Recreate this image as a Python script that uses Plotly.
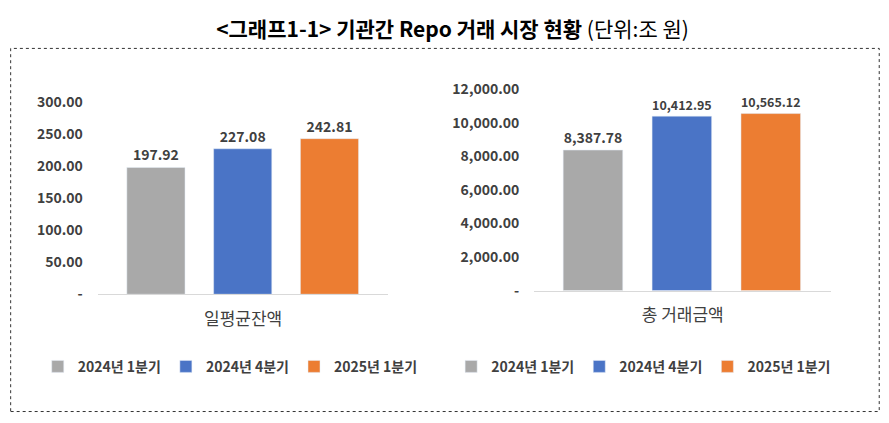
import plotly.graph_objects as go

series = ["2024년 1분기", "2024년 4분기", "2025년 1분기"]
colors = ["#a9a9a9", "#4a74c6", "#ec7d32"]
balance = [197.92, 227.08, 242.81]
volume = [8387.78, 10412.95, 10565.12]
left_ticks = [0, 50, 100, 150, 200, 250, 300]
left_ticktext = ["-", "50.00", "100.00", "150.00", "200.00", "250.00", "300.00"]
right_ticks = [0, 2000, 4000, 6000, 8000, 10000, 12000]
right_ticktext = ["-", "2,000.00", "4,000.00", "6,000.00", "8,000.00", "10,000.00", "12,000.00"]

F = "Noto Sans CJK KR"
fig = go.Figure()
for i, s in enumerate(series):
    fig.add_trace(go.Bar(x=[i], y=[balance[i]], name=s, marker_color=colors[i],
                         text=[f"{balance[i]:,.2f}"], textposition="outside",
                         textfont=dict(family=F, size=14, color="#404040", weight="bold"),
                         cliponaxis=False, xaxis="x", yaxis="y", legend="legend"))
    fig.add_trace(go.Bar(x=[i], y=[volume[i]], name=s, marker_color=colors[i],
                         text=[f"{volume[i]:,.2f}"], textposition="outside",
                         textfont=dict(family=F, size=14, color="#404040", weight="bold"),
                         cliponaxis=False, xaxis="x2", yaxis="y2", legend="legend2"))

tickf = dict(family=F, size=14, color="#404040", weight="bold")
xcommon = dict(showticklabels=False, ticks="", showgrid=False, zeroline=False,
               showline=True, linecolor="#d9d9d9", linewidth=1,
               title_font=dict(family=F, size=17, color="#404040"), title_standoff=18)
fig.update_layout(
    width=889, height=423, margin=dict(l=0, r=0, t=0, b=0),
    plot_bgcolor="white", paper_bgcolor="white", barmode="group", bargap=0.33,
    xaxis=dict(domain=[0.101, 0.428], range=[-0.67, 2.68], title_text="일평균잔액", anchor="y", **xcommon),
    yaxis=dict(domain=[0.317, 0.794], range=[0, 300], tickvals=left_ticks, ticktext=left_ticktext,
               tickfont=tickf, showgrid=False, zeroline=False, anchor="x", ticklabelstandoff=14),
    xaxis2=dict(domain=[0.592, 0.926], range=[-0.66, 2.68], title_text="총 거래금액", anchor="y2", **xcommon),
    yaxis2=dict(domain=[0.326, 0.825], range=[0, 12000], tickvals=right_ticks, ticktext=right_ticktext,
                tickfont=tickf, showgrid=False, zeroline=False, anchor="x2", ticklabelstandoff=14),
    legend=dict(orientation="h", x=0.25, xanchor="center", y=0.137, yanchor="middle",
                font=dict(family=F, size=14, color="#404040", weight="bold"), itemwidth=30),
    legend2=dict(orientation="h", x=0.715, xanchor="center", y=0.137, yanchor="middle",
                 font=dict(family=F, size=14, color="#404040", weight="bold"), itemwidth=30),
    title=dict(text="<b>&lt;그래프1-1&gt; 기관간 Repo 거래 시장 현황</b> (단위:조 원)",
               x=0.5, xanchor="center", y=0.95, yanchor="middle",
               font=dict(family=F, size=21, color="black")),
    shapes=[dict(type="rect", xref="paper", yref="paper", x0=0.003, x1=0.98, y0=0.026, y1=0.927,
                 line=dict(color="#333333", width=1, dash="dot"))],
)
fig.write_html("out.html")
